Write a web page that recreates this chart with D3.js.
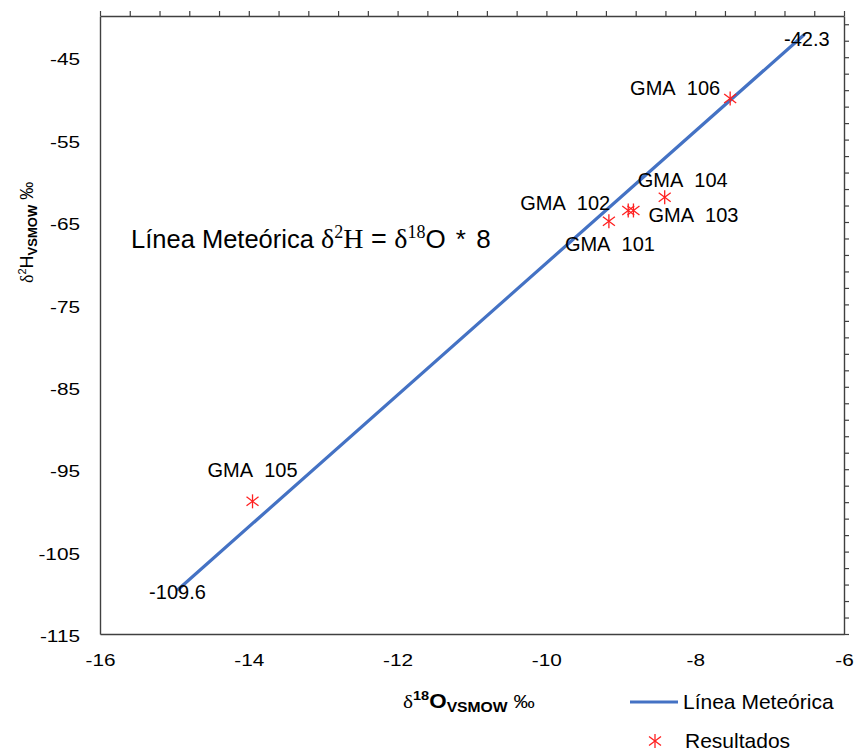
<!DOCTYPE html>
<html>
<head>
<meta charset="utf-8">
<script src="https://cdn.jsdelivr.net/npm/d3@7/dist/d3.min.js"></script>
<style>
  html, body { margin: 0; padding: 0; background: #fff; }
  svg { display: block; font-family: "Liberation Sans", Arial, sans-serif; }
</style>
</head>
<body>
<svg id="chart" width="857" height="753"></svg>
<script>
// Isotope samples (δ18O and δ2H, ‰ VSMOW)
const sampleNames = ["GMA 101", "GMA 102", "GMA 103", "GMA 104", "GMA 105", "GMA 106"];
const sampleO18 = [-9.16, -8.90, -8.83, -8.41, -13.95, -7.53];
const sampleH2 = [-64.9, -63.6, -63.6, -62.0, -98.9, -50.0];

// Meteoric water line end points
const meteoricO18 = [-14.95, -6.54];
const meteoricH2 = [-109.6, -42.3];

// Axis ticks
const xTicks = [-16, -14, -12, -10, -8, -6];
const yTicks = [-115, -105, -95, -85, -75, -65, -55, -45];
const xDomain = [-16, -6];
const yDomain = [-115, -40];

// Label placement around each sample marker (pixels): dx, dy, anchor
const labelPlacement = [
  { dx: -44, dy: 30, anchor: "start" },
  { dx: -18, dy: 0, anchor: "end" },
  { dx: 15, dy: 12, anchor: "start" },
  { dx: -27, dy: -10, anchor: "start" },
  { dx: 0, dy: -24, anchor: "middle" },
  { dx: -10, dy: -3, anchor: "end" }
];

const blue = "#4472C4";
const red = "#FF2020";
const axisColor = "#404040";
const serif = "'Liberation Serif', 'Times New Roman', serif";
const hyphenNum = d => String(d);

const svg = d3.select("#chart");
const plot = { left: 100, top: 16, right: 844, bottom: 634 };

const x = d3.scaleLinear().domain(xDomain).range([plot.left, plot.right]);
const y = d3.scaleLinear().domain(yDomain).range([plot.bottom, plot.top]);

// Bottom axis with labels only
const gx = svg.append("g")
  .attr("transform", `translate(0,${plot.bottom})`)
  .call(d3.axisBottom(x).tickValues(xTicks).tickSize(0).tickFormat(hyphenNum));
gx.select(".domain").attr("stroke", axisColor).attr("stroke-width", 1.4);
gx.selectAll("text")
  .attr("y", 21).attr("dy", "0.71em")
  .attr("font-size", 16).attr("fill", "#000")
  .attr("font-family", "'Liberation Sans', Arial, sans-serif")
  .attr("transform", "scale(1.3,1)");

// Left axis with labels only
const gy = svg.append("g")
  .attr("transform", `translate(${plot.left},0)`)
  .call(d3.axisLeft(y).tickValues(yTicks).tickSize(0).tickFormat(hyphenNum));
gy.select(".domain").attr("stroke", axisColor).attr("stroke-width", 1.4);
gy.selectAll("text")
  .attr("x", -20 / 1.3).attr("dy", "0.48em")
  .attr("font-size", 16).attr("fill", "#000")
  .attr("font-family", "'Liberation Sans', Arial, sans-serif")
  .attr("transform", "scale(1.3,1)");

// Top axis: minor ticks only
const gt = svg.append("g")
  .attr("transform", `translate(0,${plot.top})`)
  .call(d3.axisTop(x).tickValues(d3.range(0, 26).map(i => -16 + i * 0.4)).tickSize(5).tickSizeOuter(0).tickFormat(""));
gt.select(".domain").attr("stroke", axisColor).attr("stroke-width", 1.4);
gt.selectAll(".tick line").attr("stroke", axisColor).attr("stroke-width", 1.2);

// Right axis: minor ticks only
const gr = svg.append("g")
  .attr("transform", `translate(${plot.right},0)`)
  .call(d3.axisRight(y).tickValues(d3.range(0, 38).map(i => -115 + i * 2)).tickSize(5).tickSizeOuter(0).tickFormat(""));
gr.select(".domain").attr("stroke", axisColor).attr("stroke-width", 1.4);
gr.selectAll(".tick line").attr("stroke", axisColor).attr("stroke-width", 1.2);

// Meteoric water line
const linePts = meteoricO18.map((o, i) => [o, meteoricH2[i]]);
svg.append("path")
  .datum(linePts)
  .attr("d", d3.line().x(d => x(d[0])).y(d => y(d[1])))
  .attr("fill", "none")
  .attr("stroke", blue)
  .attr("stroke-width", 3.2)
  .attr("stroke-linecap", "round");

// End point values of the line
svg.append("text")
  .attr("x", x(meteoricO18[0]) - 29).attr("y", y(meteoricH2[0]) + 9)
  .attr("font-size", 20).attr("fill", "#000")
  .text(meteoricH2[0].toFixed(1));
svg.append("text")
  .attr("x", x(meteoricO18[1]) + 3).attr("y", y(meteoricH2[1]) + 11)
  .attr("text-anchor", "middle")
  .attr("font-size", 20).attr("fill", "#000")
  .text(meteoricH2[1].toFixed(1));

// Asterisk marker
function asterisk(g, cx, cy) {
  const s = g.append("g").attr("transform", `translate(${cx},${cy})`)
    .attr("stroke", red).attr("stroke-width", 1.3).attr("fill", "none");
  s.append("line").attr("x1", 0).attr("y1", -7).attr("x2", 0).attr("y2", 7);
  s.append("line").attr("x1", -6).attr("y1", -4.5).attr("x2", 6).attr("y2", 4.5);
  s.append("line").attr("x1", -6).attr("y1", 4.5).attr("x2", 6).attr("y2", -4.5);
}

const samples = sampleNames.map((n, i) => ({ name: n, o: sampleO18[i], h: sampleH2[i], p: labelPlacement[i] }));
const gPts = svg.append("g");
samples.forEach(d => asterisk(gPts, x(d.o), y(d.h)));

svg.append("g").selectAll("text")
  .data(samples)
  .join("text")
  .attr("x", d => x(d.o) + d.p.dx)
  .attr("y", d => y(d.h) + d.p.dy)
  .attr("text-anchor", d => d.p.anchor)
  .attr("font-size", 20)
  .attr("fill", "#000")
  .style("white-space", "pre")
  .text(d => d.name.replace(" ", "\u00a0 "));

// Equation annotation
const eq = svg.append("text")
  .attr("x", 131).attr("y", 248)
  .attr("font-size", 25.5).attr("fill", "#000");
eq.append("tspan").text("Línea Meteórica ");
eq.append("tspan").attr("font-family", serif).attr("font-size", 28).text("δ");
eq.append("tspan").attr("font-family", serif).attr("font-size", 18).attr("dy", -10).text("2");
eq.append("tspan").attr("font-family", serif).attr("font-size", 28).attr("dy", 10).text("H");
eq.append("tspan").attr("font-size", 27).text(" = ");
eq.append("tspan").attr("font-family", serif).attr("font-size", 28).text("δ");
eq.append("tspan").attr("font-family", serif).attr("font-size", 18).attr("dy", -10).text("18");
eq.append("tspan").attr("dy", 10).attr("font-size", 26).attr("letter-spacing", 1.5).text("O * 8");

// X axis title
const xt = svg.append("text")
  .attr("transform", "translate(403,708) scale(1.12,1)")
  .attr("font-size", 19).attr("fill", "#000");
xt.append("tspan").attr("font-family", serif).text("δ");
xt.append("tspan").attr("font-weight", "bold").attr("font-size", 13).attr("dy", -8).text("18");
xt.append("tspan").attr("font-weight", "bold").attr("dy", 8).attr("font-size", 20).text("O");
xt.append("tspan").attr("font-weight", "bold").attr("font-size", 14).attr("dy", 4).text("VSMOW");
xt.append("tspan").attr("dy", -4).text(" ‰");

// Y axis title
const yt = svg.append("text")
  .attr("transform", "translate(33,283) rotate(-90)")
  .attr("font-size", 18).attr("fill", "#000");
yt.append("tspan").attr("font-family", serif).text("δ");
yt.append("tspan").attr("font-size", 11).attr("dy", -7).text("2");
yt.append("tspan").attr("dy", 7).text("H");
yt.append("tspan").attr("font-weight", "bold").attr("font-size", 13).attr("dy", 4).text("VSMOW");
yt.append("tspan").attr("dy", -4).text(" ‰");

// Legend
const lg = svg.append("g");
lg.append("line")
  .attr("x1", 630).attr("x2", 678).attr("y1", 702).attr("y2", 702)
  .attr("stroke", blue).attr("stroke-width", 3);
lg.append("text").attr("x", 683).attr("y", 709).attr("font-size", 21).attr("fill", "#000").text("Línea Meteórica");
asterisk(lg, 655, 741);
lg.append("text").attr("x", 685).attr("y", 748).attr("font-size", 21).attr("fill", "#000").text("Resultados");
</script>
</body>
</html>
